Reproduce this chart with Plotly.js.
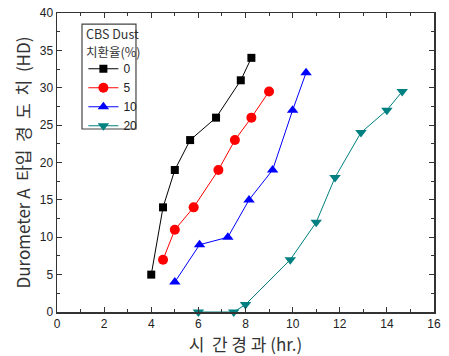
<!DOCTYPE html>
<html>
<head>
<meta charset="utf-8">
<script src="https://cdn.plot.ly/plotly-3.0.1.min.js"></script>
<style>html,body{margin:0;padding:0;background:#fff;}#chart{width:449px;height:356px;}</style>
</head>
<body>
<div id="chart"></div>
<script>
const seriesNames = ["0", "5", "10", "20"];
const x0 = [4.0, 4.5, 5.0, 5.65, 6.75, 7.8, 8.25];
const y0 = [5, 14, 19, 23, 26, 31, 34];
const x5 = [4.5, 5.0, 5.8, 6.85, 7.55, 8.25, 9.0];
const y5 = [7, 11, 14, 19, 23, 26, 29.5];
const x10 = [5.0, 6.05, 7.25, 8.15, 9.15, 10.0, 10.57];
const y10 = [4, 9, 10, 15, 19, 27, 32];
const x20 = [6.0, 7.5, 8.0, 9.9, 11.0, 11.8, 12.9, 14.0, 14.65];
const y20 = [0, 0, 1, 7, 12, 18, 24, 27, 29.5];
const xTicks = [0, 2, 4, 6, 8, 10, 12, 14, 16];
const yTicks = [0, 5, 10, 15, 20, 25, 30, 35, 40];
const legendTitleLines = ["CBS Dust", "치환율(%)"];

const colors = ["#000000", "#ff0000", "#0000ff", "#008080"];
const symbols = ["square", "circle", "triangle-up", "triangle-down"];
const sizes = [8, 10, 10, 10];
const xs = [x0, x5, x10, x20];
const ys = [y0, y5, y10, y20];

const traces = seriesNames.map((n, i) => ({
  x: xs[i], y: ys[i], name: n, type: "scatter", mode: "lines+markers",
  line: {color: colors[i], width: 1},
  marker: {color: colors[i], symbol: symbols[i], size: sizes[i]},
  cliponaxis: false
}));

const axisCommon = {
  showline: true, linecolor: "#333", linewidth: 1.5, mirror: "allticks",
  ticks: "inside", ticklen: 5, tickwidth: 1.2, tickcolor: "#333",
  showgrid: false, zeroline: false,
  tickfont: {family: "Liberation Sans, Arial, sans-serif", size: 12, color: "#222"},
  minor: {ticks: "inside", ticklen: 3, tickcolor: "#333", tickwidth: 1, showgrid: false}
};
const titleFont = {family: "Noto Sans CJK KR, Liberation Sans, sans-serif", size: 17, color: "#333"};
const S = "\u00a0";

const layout = {
  width: 449, height: 356,
  margin: {l: 57, r: 15, t: 13, b: 44},
  paper_bgcolor: "#fff", plot_bgcolor: "#fff",
  showlegend: true,
  xaxis: Object.assign({}, axisCommon, {
    range: [0, 16], tickvals: xTicks, minor: Object.assign({}, axisCommon.minor, {dtick: 1}),
    title: {text: "시" + S + S + "간" + S + "경" + S + "과" + S + "(hr.)", standoff: 6, font: titleFont}
  }),
  yaxis: Object.assign({}, axisCommon, {
    range: [0, 40], tickvals: yTicks, minor: Object.assign({}, axisCommon.minor, {dtick: 2.5}),
    title: {text: "Durometer" + S + "A" + S + S + "타입" + S + S + "경" + S + S + "도" + S + S + "치" + S + S + "(HD)", standoff: 5, font: titleFont}
  }),
  legend: {
    x: 0.07, y: 0.862, xanchor: "left", yanchor: "top",
    borderwidth: 0, bgcolor: "rgba(0,0,0,0)",
    font: {family: "Liberation Sans, Arial, sans-serif", size: 12, color: "#222"},
    tracegroupgap: 0, itemwidth: 30
  },
  shapes: [{
    type: "rect", xref: "paper", yref: "paper",
    x0: 0.0663, x1: 0.2095, y0: 0.612, y1: 0.963,
    line: {color: "#444", width: 1.2}, fillcolor: "rgba(0,0,0,0)", layer: "above"
  }],
  annotations: legendTitleLines.map((t, i) => ({
    text: t, xref: "paper", yref: "paper", x: 0.072, y: [0.930, 0.870][i],
    xanchor: "left", yanchor: "middle", showarrow: false,
    font: {family: "Noto Sans CJK KR, Liberation Sans, sans-serif", size: 12.5, color: "#333"}
  }))
};

Plotly.newPlot("chart", traces, layout, {displayModeBar: false, staticPlot: true});
</script>
</body>
</html>
